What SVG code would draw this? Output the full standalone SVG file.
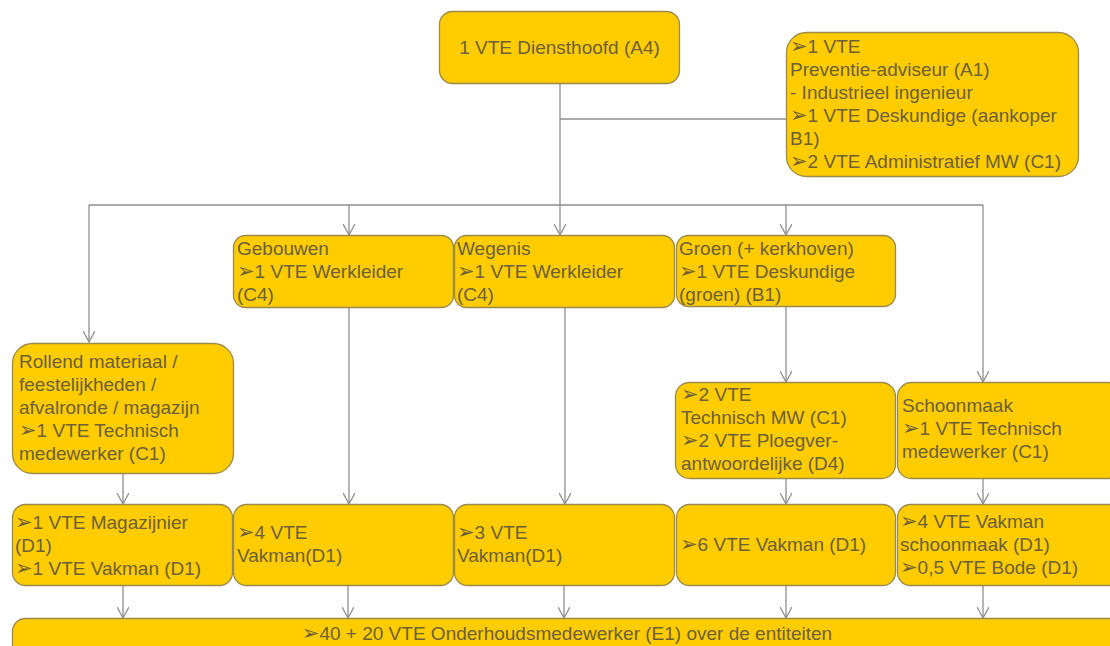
<svg xmlns="http://www.w3.org/2000/svg" width="1110" height="646" viewBox="0 0 1110 646">
<defs>
<style>
.box{fill:#FFCC00;stroke:#9a8a4c;stroke-width:1.3}
.t{font-family:"Liberation Sans",Arial,"DejaVu Sans",sans-serif;font-size:19px;fill:#6e5f36}
.b{font-family:"DejaVu Sans",sans-serif;font-size:21px;fill:#6e5f36}
.c{fill:none;stroke:#8e8e8e;stroke-width:1.3}
</style>
<marker id="arr" viewBox="0 0 12 12" refX="11" refY="6" markerWidth="12" markerHeight="12" markerUnits="userSpaceOnUse" orient="auto">
<path d="M0,0 L11,6 L0,12" fill="none" stroke="#8e8e8e" stroke-width="1.3"/>
</marker>
</defs>
<rect width="1110" height="646" fill="#ffffff"/>
<g id="connectors">
<path class="c" d="M560,83 V205"/>
<path class="c" d="M560,119 H786"/>
<path class="c" d="M89,205 H983"/>
<path class="c" d="M89,205 V342" marker-end="url(#arr)"/>
<path class="c" d="M349,205 V235" marker-end="url(#arr)"/>
<path class="c" d="M560,205 V235" marker-end="url(#arr)"/>
<path class="c" d="M786,205 V235" marker-end="url(#arr)"/>
<path class="c" d="M983,205 V382" marker-end="url(#arr)"/>
<path class="c" d="M349,307 V504" marker-end="url(#arr)"/>
<path class="c" d="M565,307 V504" marker-end="url(#arr)"/>
<path class="c" d="M786,307 V382" marker-end="url(#arr)"/>
<path class="c" d="M123,473 V504" marker-end="url(#arr)"/>
<path class="c" d="M786,478 V504" marker-end="url(#arr)"/>
<path class="c" d="M983,478 V504" marker-end="url(#arr)"/>
<path class="c" d="M123,585 V618" marker-end="url(#arr)"/>
<path class="c" d="M348,585 V618" marker-end="url(#arr)"/>
<path class="c" d="M564,585 V618" marker-end="url(#arr)"/>
<path class="c" d="M786,585 V618" marker-end="url(#arr)"/>
<path class="c" d="M983,585 V618" marker-end="url(#arr)"/>
</g>
<g id="diensthoofd">
<rect class="box" x="439.5" y="11.5" width="240" height="72" rx="13"/>
<text class="t" x="559.5" y="54" text-anchor="middle">1 VTE Diensthoofd (A4)</text>
</g>
<g id="preventie">
<rect class="box" x="786.5" y="32.5" width="292" height="144" rx="20"/>
<text class="t" x="790" y="53"><tspan class="b">➢</tspan>1 VTE</text>
<text class="t" x="790" y="76">Preventie-adviseur (A1)</text>
<text class="t" x="790" y="99">- Industrieel ingenieur</text>
<text class="t" x="790" y="122"><tspan class="b">➢</tspan>1 VTE Deskundige (aankoper</text>
<text class="t" x="790" y="145">B1)</text>
<text class="t" x="790" y="168"><tspan class="b">➢</tspan>2 VTE Administratief MW (C1)</text>
</g>
<g id="gebouwen">
<rect class="box" x="233.5" y="235.5" width="220" height="72" rx="12"/>
<text class="t" x="237" y="255">Gebouwen</text>
<text class="t" x="237" y="278"><tspan class="b">➢</tspan>1 VTE Werkleider</text>
<text class="t" x="237" y="301">(C4)</text>
</g>
<g id="wegenis">
<rect class="box" x="454.5" y="235.5" width="220" height="72" rx="12"/>
<text class="t" x="457" y="255">Wegenis</text>
<text class="t" x="457" y="278"><tspan class="b">➢</tspan>1 VTE Werkleider</text>
<text class="t" x="457" y="301">(C4)</text>
</g>
<g id="groen">
<rect class="box" x="676.5" y="235.5" width="219" height="71" rx="12"/>
<text class="t" x="679" y="255">Groen (+ kerkhoven)</text>
<text class="t" x="679" y="278"><tspan class="b">➢</tspan>1 VTE Deskundige</text>
<text class="t" x="679" y="301">(groen) (B1)</text>
</g>
<g id="rollend">
<rect class="box" x="12.5" y="343.5" width="221" height="130" rx="20"/>
<text class="t" x="19" y="368">Rollend materiaal /</text>
<text class="t" x="19" y="391">feestelijkheden /</text>
<text class="t" x="19" y="414">afvalronde / magazijn</text>
<text class="t" x="19" y="437"><tspan class="b">➢</tspan>1 VTE Technisch</text>
<text class="t" x="19" y="460">medewerker (C1)</text>
</g>
<g id="technisch-mw">
<rect class="box" x="675.5" y="382.5" width="220" height="96" rx="14"/>
<text class="t" x="681" y="401"><tspan class="b">➢</tspan>2 VTE</text>
<text class="t" x="681" y="424">Technisch MW (C1)</text>
<text class="t" x="681" y="447"><tspan class="b">➢</tspan>2 VTE Ploegver-</text>
<text class="t" x="681" y="470">antwoordelijke (D4)</text>
</g>
<g id="schoonmaak">
<rect class="box" x="897.5" y="382.5" width="225" height="96" rx="14"/>
<text class="t" x="902" y="412">Schoonmaak</text>
<text class="t" x="902" y="435"><tspan class="b">➢</tspan>1 VTE Technisch</text>
<text class="t" x="902" y="458">medewerker (C1)</text>
</g>
<g id="magazijnier">
<rect class="box" x="12.5" y="504.5" width="220" height="81" rx="13"/>
<text class="t" x="15" y="529"><tspan class="b">➢</tspan>1 VTE Magazijnier</text>
<text class="t" x="15" y="552">(D1)</text>
<text class="t" x="15" y="575"><tspan class="b">➢</tspan>1 VTE Vakman (D1)</text>
</g>
<g id="vakman-4">
<rect class="box" x="233.5" y="504.5" width="220" height="81" rx="13"/>
<text class="t" x="237" y="539"><tspan class="b">➢</tspan>4 VTE</text>
<text class="t" x="237" y="562">Vakman(D1)</text>
</g>
<g id="vakman-3">
<rect class="box" x="454.5" y="504.5" width="220" height="81" rx="13"/>
<text class="t" x="457" y="539"><tspan class="b">➢</tspan>3 VTE</text>
<text class="t" x="457" y="562">Vakman(D1)</text>
</g>
<g id="vakman-6">
<rect class="box" x="676.5" y="504.5" width="219" height="81" rx="13"/>
<text class="t" x="680" y="551"><tspan class="b">➢</tspan>6 VTE Vakman (D1)</text>
</g>
<g id="vakman-schoonmaak">
<rect class="box" x="897.5" y="504.5" width="225" height="81" rx="13"/>
<text class="t" x="900" y="528"><tspan class="b">➢</tspan>4 VTE Vakman</text>
<text class="t" x="900" y="551">schoonmaak (D1)</text>
<text class="t" x="900" y="574"><tspan class="b">➢</tspan>0,5 VTE Bode (D1)</text>
</g>
<g id="onderhoud">
<rect class="box" x="12.5" y="618.5" width="1110" height="60" rx="13"/>
<text class="t" x="567" y="640" text-anchor="middle"><tspan class="b">➢</tspan>40 + 20 VTE Onderhoudsmedewerker (E1) over de entiteiten</text>
</g>
</svg>
